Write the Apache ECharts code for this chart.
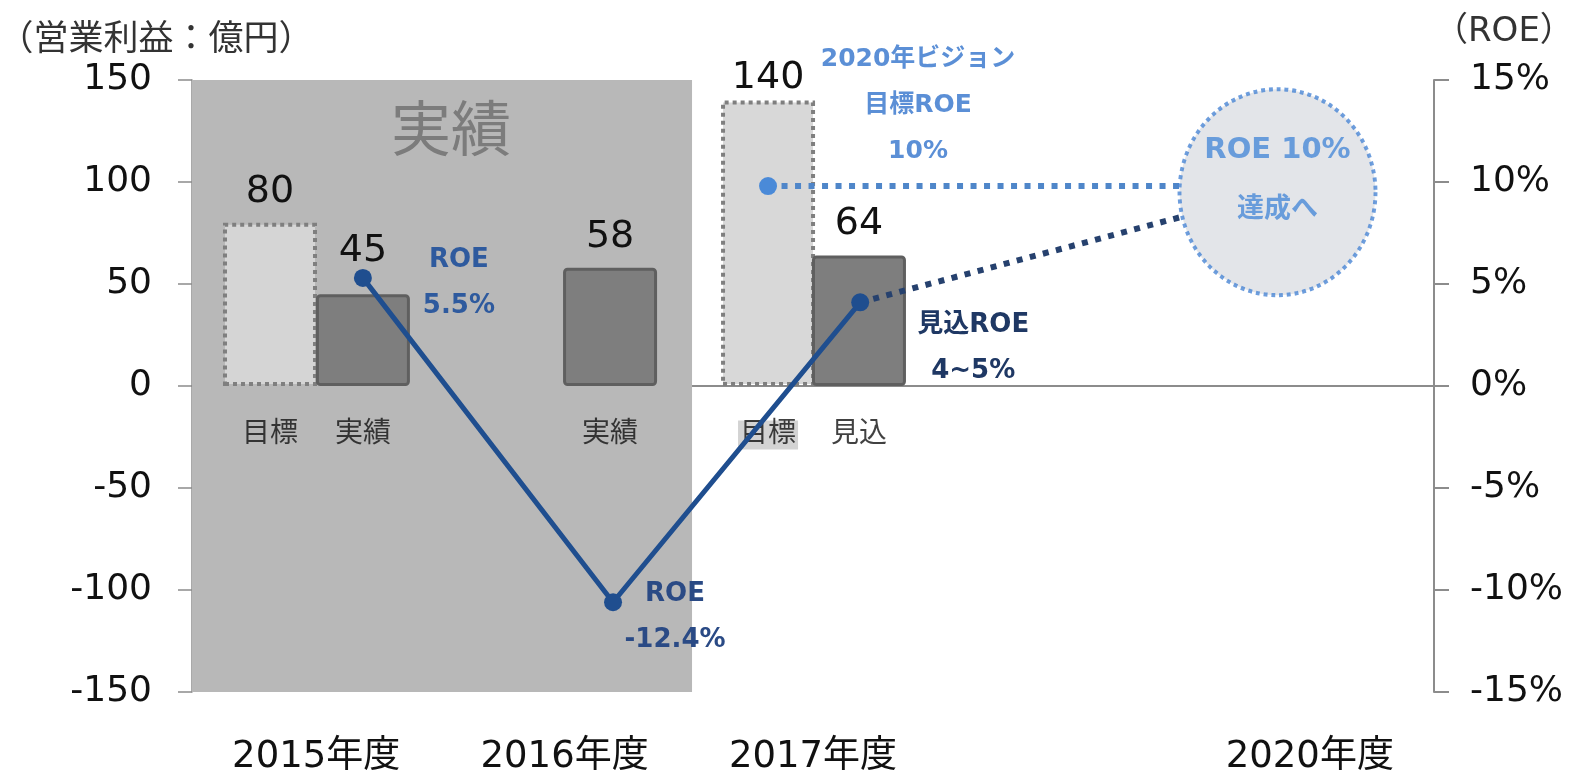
<!DOCTYPE html>
<html>
<head>
<meta charset="utf-8">
<script src="https://cdn.jsdelivr.net/npm/echarts@6/dist/echarts.min.js"></script>
<style>
  html, body { margin: 0; padding: 0; background: #fff; }
  #main { width: 1581px; height: 771px; }
</style>
</head>
<body>
<div id="main"></div>
<script>
// 横軸は位置の単位（0〜50）。年度ラベルは 5, 15, 25, 45 の位置
var barNames = ['目標', '実績', '実績', '目標', '見込'];
var barPos = [3.14, 6.88, 16.83, 23.19, 26.85];
var barValues = [80, 45, 58, 140, 64];
var barIsTarget = [true, false, false, true, false];

var yearLabels = ['2015年度', '2016年度', '2017年度', '2020年度'];
var yearPos = [5, 15, 25, 45];

// ROE（右軸、%）
var roePos = [6.88, 16.95, 26.9];
var roeValues = [5.3, -10.6, 4.1];
var roeLabels = ['ROE\n5.5%', 'ROE\n-12.4%', '見込ROE\n4~5%'];

// 見込から2020年への点線
var forecastPos = [26.9, 39.86];
var forecastValues = [4.1, 8.3];

// 2020年ビジョン 目標ROE
var targetPos = [23.19, 39.8];
var targetValues = [9.8, 9.8];
var targetLabel = '2020年ビジョン\n目標ROE\n10%';

var circlePos = 43.7;
var circleValue = 9.5;

var shadeRange = [0, 20.13];

var FONT = "'DejaVu Sans', 'Noto Sans CJK JP', sans-serif";

var chart = echarts.init(document.getElementById('main'));

// 棒グラフのデータ
var barData = [];
for (var i = 0; i < barPos.length; i++) {
  var item = {
    value: [barPos[i], barValues[i]],
    itemStyle: barIsTarget[i] ? {
      color: i == 0 ? '#d5d5d5' : '#d8d8d8',
      borderColor: '#7f7f7f',
      borderWidth: 4,
      borderType: 'dotted'
    } : {
      color: '#7e7e7e',
      borderColor: '#5f5f5f',
      borderWidth: 3,
      borderRadius: 3
    }
  };
  if (barValues[i] == 45) item.label = { offset: [0, -12] };
  if (barValues[i] == 140) item.label = { offset: [0, 9] };
  barData.push(item);
}

// 棒の下の名前
var nameData = [];
for (var i = 0; i < barPos.length; i++) {
  var n = { value: [barPos[i], 0] };
  if (barIsTarget[i] && i > 0) {
    n.label = { backgroundColor: '#c8c8c8', padding: [1, 2, 0, 2] };
  }
  nameData.push(n);
}

// ROE のラベル位置
var roeOffsets = [[96, 5], [62, 15], [113, 46]];
var roeColors = ['#2e5a9e', '#2a4a85', '#1f3864'];
var roeData = [];
for (var i = 0; i < roePos.length; i++) {
  roeData.push({
    value: [roePos[i], roeValues[i]],
    label: {
      show: true,
      position: 'inside',
      offset: roeOffsets[i],
      formatter: roeLabels[i],
      color: roeColors[i],
      fontSize: 26,
      fontWeight: 'bold',
      lineHeight: 46,
      fontFamily: FONT
    }
  });
}

var option = {
  animation: false,
  grid: { left: 192, right: 147, top: 80, bottom: 79, containLabel: false, outerBoundsMode: 'none' },
  xAxis: [{
    type: 'value',
    min: 0, max: 50,
    axisLine: { show: true, onZero: true, lineStyle: { color: '#8c8c8c', width: 2 } },
    axisTick: { show: false },
    axisLabel: { show: false },
    splitLine: { show: false }
  }, {
    type: 'value',
    min: 0, max: 50, interval: 5,
    position: 'bottom',
    axisLine: { show: false, onZero: false },
    axisTick: { show: false },
    splitLine: { show: false },
    axisLabel: {
      margin: 47,
      fontSize: 37,
      color: '#111',
      fontFamily: FONT,
      formatter: function (v) {
        var k = yearPos.indexOf(v);
        return k >= 0 ? yearLabels[k] : '';
      }
    }
  }],
  yAxis: [{
    type: 'value',
    min: -150, max: 150, interval: 50,
    position: 'left',
    name: '（営業利益：億円）',
    nameLocation: 'end',
    nameGap: 22,
    nameTextStyle: { fontSize: 35, color: '#333', fontFamily: FONT, align: 'center', padding: [0, 72, 0, 0] },
    axisLine: { show: true, onZero: false, lineStyle: { color: '#8c8c8c', width: 1.5 } },
    axisTick: { show: true, length: 14, lineStyle: { color: '#8c8c8c', width: 1.5 } },
    axisLabel: { margin: 40, fontSize: 36, color: '#111', fontFamily: FONT },
    splitLine: { show: false }
  }, {
    type: 'value',
    min: -15, max: 15, interval: 5,
    position: 'right',
    name: '（ROE）',
    nameLocation: 'end',
    nameGap: 31,
    nameTextStyle: { fontSize: 34, color: '#333', fontFamily: FONT, align: 'left', padding: [0, 0, 0, 0] },
    axisLine: { show: true, onZero: false, lineStyle: { color: '#8c8c8c', width: 2 } },
    axisTick: { show: true, length: 15, lineStyle: { color: '#8c8c8c', width: 2 } },
    axisLabel: { margin: 36, fontSize: 36, color: '#111', fontFamily: FONT, formatter: '{value}%' },
    splitLine: { show: false }
  }],
  series: [{
    name: '営業利益',
    type: 'bar',
    xAxisIndex: 0,
    yAxisIndex: 0,
    barWidth: 94,
    data: barData,
    label: {
      show: true,
      position: 'top',
      distance: 12,
      fontSize: 38,
      color: '#111',
      fontFamily: FONT,
      formatter: function (p) { return p.value[1]; }
    },
    markArea: {
      silent: true,
      itemStyle: { color: '#b8b8b8' },
      label: {
        show: true,
        position: 'insideTop',
        distance: 25,
        offset: [9, 0],
        fontSize: 60,
        color: '#7c7c7c',
        fontFamily: FONT
      },
      data: [[{ name: '実績', xAxis: shadeRange[0] }, { xAxis: shadeRange[1] }]]
    },
    z: 2
  }, {
    name: '区分',
    type: 'scatter',
    xAxisIndex: 0,
    yAxisIndex: 0,
    symbolSize: 1,
    itemStyle: { color: 'rgba(0,0,0,0)' },
    data: nameData,
    label: {
      show: true,
      position: 'inside',
      offset: [0, 49],
      fontSize: 28,
      color: '#111',
      fontFamily: FONT,
      formatter: function (p) { return barNames[p.dataIndex]; }
    },
    z: 3
  }, {
    name: '見込',
    type: 'line',
    xAxisIndex: 0,
    yAxisIndex: 1,
    symbol: 'none',
    lineStyle: { color: '#26416e', width: 6, type: [6, 7.5], cap: 'butt' },
    data: [[forecastPos[0], forecastValues[0]], [forecastPos[1], forecastValues[1]]],
    z: 4
  }, {
    name: '目標ROE',
    type: 'line',
    xAxisIndex: 0,
    yAxisIndex: 1,
    symbol: 'circle',
    symbolSize: 18,
    itemStyle: { color: '#4a8ad8' },
    lineStyle: { color: '#4f86c9', width: 6, type: [6, 7.5], cap: 'butt' },
    data: [{
      value: [targetPos[0], targetValues[0]],
      label: {
        show: true,
        position: 'inside',
        offset: [150, -81],
        formatter: targetLabel,
        color: '#5b8fd6',
        fontSize: 25,
        fontWeight: 'bold',
        lineHeight: 46,
        fontFamily: FONT
      }
    }, {
      value: [targetPos[1], targetValues[1]],
      symbol: 'none'
    }],
    z: 4
  }, {
    name: 'ROE',
    type: 'line',
    xAxisIndex: 0,
    yAxisIndex: 1,
    symbol: 'circle',
    symbolSize: 18,
    itemStyle: { color: '#1f4e8f' },
    lineStyle: { color: '#1f4e8f', width: 5 },
    data: roeData,
    z: 5
  }, {
    name: '2020年',
    type: 'scatter',
    xAxisIndex: 0,
    yAxisIndex: 1,
    symbol: 'circle',
    symbolSize: [196, 206],
    itemStyle: {
      color: '#dcdfe4',
      borderColor: '#4a86d4',
      borderWidth: 4,
      borderType: 'dotted'
    },
    label: {
      show: true,
      position: 'inside',
      offset: [0, -12],
      formatter: '{a|ROE 10%}\n{b|達成へ}',
      rich: {
        a: { fontSize: 29, color: '#4a8ad8', fontWeight: 'bold', fontFamily: FONT, lineHeight: 60 },
        b: { fontSize: 27, color: '#4a8ad8', fontWeight: 'bold', fontFamily: FONT, lineHeight: 60 }
      }
    },
    data: [[circlePos, circleValue]],
    z: 6
  }]
};

chart.setOption(option);
</script>
</body>
</html>
